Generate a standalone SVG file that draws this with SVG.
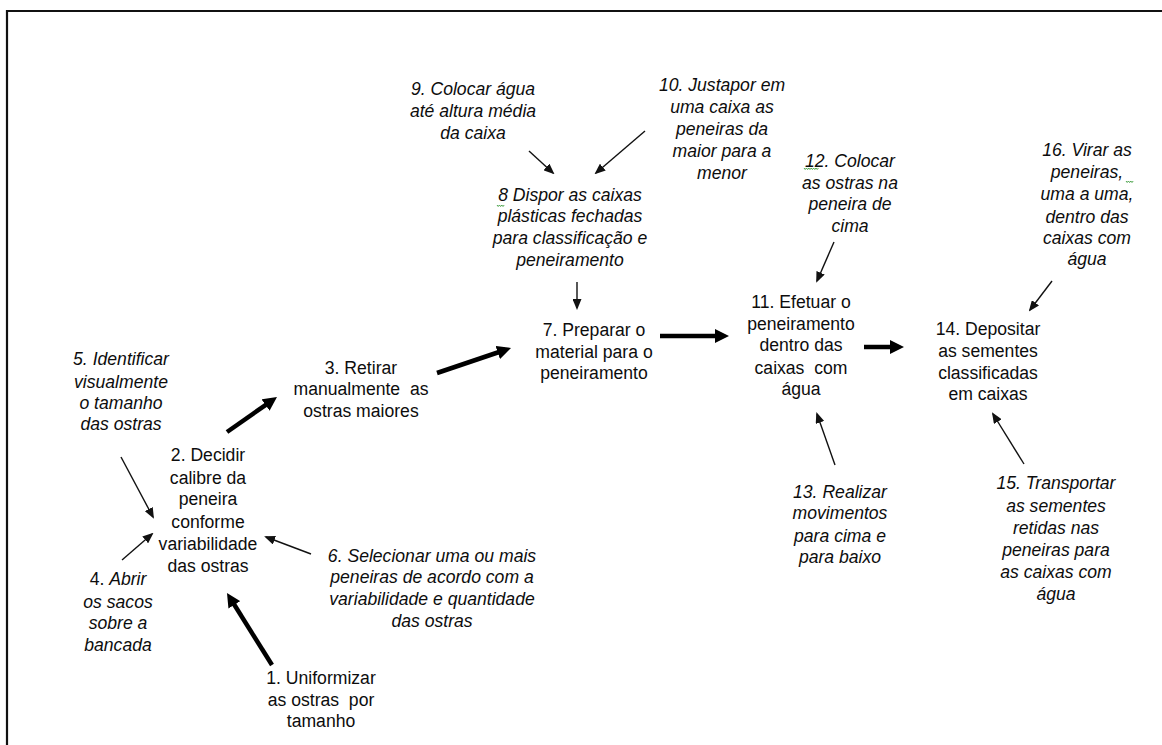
<svg xmlns="http://www.w3.org/2000/svg" width="1162" height="745" viewBox="0 0 1162 745">
  <style>
    text { font-family: "Liberation Sans", Arial, sans-serif; font-size: 17.6px; fill: #0d0d0d; text-anchor: middle; white-space: pre; }
    .it { font-style: italic; }
    .thin { stroke: #111; stroke-width: 1.4; fill: none; marker-end: url(#headThin); }
    .thick { stroke: #000; stroke-width: 4.5; fill: none; marker-end: url(#headThick); }
    .squig { stroke: #3a9a3a; stroke-width: 0.9; fill: none; }
  </style>
  <defs>
    <marker id="headThin" markerUnits="userSpaceOnUse" markerWidth="11" markerHeight="9" refX="9" refY="4.5" orient="auto">
      <path d="M0,0 L11,4.5 L0,9 z" fill="#111"/>
    </marker>
    <marker id="headThick" markerUnits="userSpaceOnUse" markerWidth="14" markerHeight="14" refX="3" refY="7" orient="auto">
      <path d="M0,0 L14,7 L0,14 z" fill="#000"/>
    </marker>
  </defs>

  <rect width="1162" height="745" fill="#fff"/>
  <!-- frame -->
  <path d="M7,745 L7,11 L1162,11" stroke="#111" stroke-width="2.2" fill="none"/>

  <!-- connectors -->
  <g id="connectors">
    <line class="thick" x1="227" y1="432" x2="268" y2="403.3"/>
    <line class="thick" x1="437" y1="373" x2="500.6" y2="351.5"/>
    <line class="thick" x1="660" y1="336" x2="718" y2="336"/>
    <line class="thick" x1="864" y1="347" x2="893" y2="347"/>
    <line class="thick" x1="272" y1="665" x2="232.8" y2="602.3"/>

    <line class="thin" x1="529" y1="151" x2="553" y2="173"/>
    <line class="thin" x1="645" y1="131" x2="596" y2="173"/>
    <line class="thin" x1="577" y1="282" x2="577" y2="308"/>
    <line class="thin" x1="834" y1="242" x2="817" y2="281"/>
    <line class="thin" x1="1052" y1="281" x2="1030" y2="310"/>
    <line class="thin" x1="835" y1="465" x2="817" y2="414"/>
    <line class="thin" x1="1024" y1="464" x2="993" y2="414"/>
    <line class="thin" x1="121" y1="457" x2="153" y2="517"/>
    <line class="thin" x1="122" y1="560" x2="152" y2="534"/>
    <line class="thin" x1="311" y1="554" x2="266" y2="537"/>
  </g>

  <!-- nodes -->
  <g id="n1">
    <text><tspan x="321" y="684">1. Uniformizar</tspan><tspan x="321" y="706">as ostras  por</tspan><tspan x="321" y="727">tamanho</tspan></text>
  </g>
  <g id="n2">
    <text><tspan x="208" y="461">2. Decidir</tspan><tspan x="208" y="484">calibre da</tspan><tspan x="208" y="505">peneira</tspan><tspan x="208" y="528">conforme</tspan><tspan x="208" y="550">variabilidade</tspan><tspan x="208" y="572">das ostras</tspan></text>
  </g>
  <g id="n3">
    <text><tspan x="361" y="374">3. Retirar</tspan><tspan x="361" y="395">manualmente  as</tspan><tspan x="361" y="417">ostras maiores</tspan></text>
  </g>
  <g id="n4">
    <text><tspan x="118" y="585">4. <tspan class="it">Abrir</tspan></tspan><tspan class="it" x="118" y="608">os sacos</tspan><tspan class="it" x="118" y="629">sobre a</tspan><tspan class="it" x="118" y="651">bancada</tspan></text>
  </g>
  <g id="n5">
    <text class="it"><tspan x="121" y="365">5. Identificar</tspan><tspan x="121" y="388">visualmente</tspan><tspan x="121" y="409">o tamanho</tspan><tspan x="121" y="430">das ostras</tspan></text>
  </g>
  <g id="n6">
    <text class="it"><tspan x="432" y="562">6. Selecionar uma ou mais</tspan><tspan x="432" y="583">peneiras de acordo com a</tspan><tspan x="432" y="605">variabilidade e quantidade</tspan><tspan x="432" y="627">das ostras</tspan></text>
  </g>
  <g id="n7">
    <text><tspan x="594" y="336">7. Preparar o</tspan><tspan x="594" y="358">material para o</tspan><tspan x="594" y="379">peneiramento</tspan></text>
  </g>
  <g id="n8">
    <text class="it"><tspan x="570" y="201">8 Dispor as caixas</tspan><tspan x="570" y="222">plásticas fechadas</tspan><tspan x="570" y="244">para classificação e</tspan><tspan x="570" y="266">peneiramento</tspan></text>
    <path class="squig" d="M497,205 l1.2,1.5 l1.2,-1.5 l1.2,1.5 l1.2,-1.5 l1.2,1.5 l1.2,-1.5"/>
  </g>
  <g id="n9">
    <text class="it"><tspan x="473" y="95">9. Colocar água</tspan><tspan x="473" y="117">até altura média</tspan><tspan x="473" y="139">da caixa</tspan></text>
  </g>
  <g id="n10">
    <text class="it"><tspan x="722" y="91">10. Justapor em</tspan><tspan x="722" y="113">uma caixa as</tspan><tspan x="722" y="135">peneiras da</tspan><tspan x="722" y="157">maior para a</tspan><tspan x="722" y="179">menor</tspan></text>
  </g>
  <g id="n11">
    <text><tspan x="801" y="308">11. Efetuar o</tspan><tspan x="801" y="330">peneiramento</tspan><tspan x="801" y="351">dentro das</tspan><tspan x="801" y="374">caixas  com</tspan><tspan x="801" y="395">água</tspan></text>
  </g>
  <g id="n12">
    <text class="it"><tspan x="850" y="167">12. Colocar</tspan><tspan x="850" y="189">as ostras na</tspan><tspan x="850" y="210">peneira de</tspan><tspan x="850" y="232">cima</tspan></text>
    <path class="squig" d="M804,168 l1.2,1.5 l1.2,-1.5 l1.2,1.5 l1.2,-1.5 l1.2,1.5 l1.2,-1.5 l1.2,1.5 l1.2,-1.5 l1.2,1.5 l1.2,-1.5 l1.2,1.5 l1.2,-1.5"/>
  </g>
  <g id="n14">
    <text><tspan x="988" y="335">14. Depositar</tspan><tspan x="988" y="357">as sementes</tspan><tspan x="988" y="379">classificadas</tspan><tspan x="988" y="400">em caixas</tspan></text>
  </g>
  <g id="n13">
    <text class="it"><tspan x="840" y="498">13. Realizar</tspan><tspan x="840" y="519">movimentos</tspan><tspan x="840" y="542">para cima e</tspan><tspan x="840" y="563">para baixo</tspan></text>
  </g>
  <g id="n15">
    <text class="it"><tspan x="1056" y="489">15. Transportar</tspan><tspan x="1056" y="512">as sementes</tspan><tspan x="1056" y="534">retidas nas</tspan><tspan x="1056" y="556">peneiras para</tspan><tspan x="1056" y="578">as caixas com</tspan><tspan x="1056" y="600">água</tspan></text>
  </g>
  <g id="n16">
    <text class="it"><tspan x="1087" y="156">16. Virar as</tspan><tspan x="1087" y="178">peneiras,</tspan><tspan x="1087" y="200">uma a uma,</tspan><tspan x="1087" y="223">dentro das</tspan><tspan x="1087" y="244">caixas com</tspan><tspan x="1087" y="265">água</tspan></text>
    <path class="squig" d="M1126,181 l1.2,1.5 l1.2,-1.5 l1.2,1.5 l1.2,-1.5 l1.2,1.5 l1.2,-1.5"/>
  </g>
</svg>
